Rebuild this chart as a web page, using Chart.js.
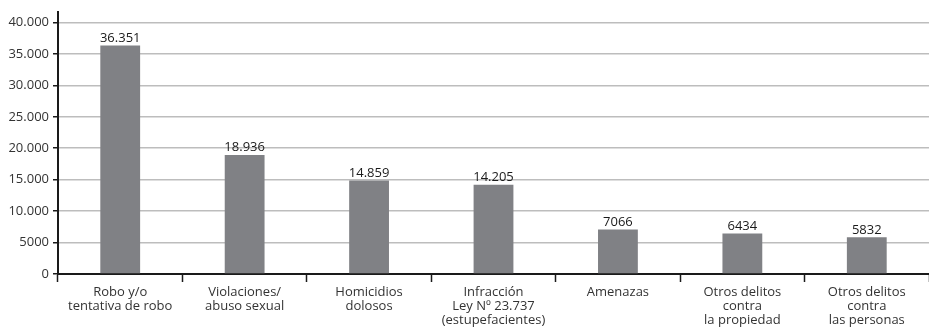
<!DOCTYPE html>
<html>
<head>
<meta charset="utf-8">
<script src="https://cdn.jsdelivr.net/npm/chart.js@4"></script>
<style>
  html, body { margin: 0; padding: 0; background: #fff; }
  #wrap { width: 929px; height: 330px; }
</style>
</head>
<body>
<div id="wrap"><canvas id="chartDelitos" width="929" height="330"></canvas></div>
<script>
// categorias e valores
const categorias = [
  ['Robo y/o', 'tentativa de robo'],
  ['Violaciones/', 'abuso sexual'],
  ['Homicidios', 'dolosos'],
  ['Infracción', 'Ley Nº 23.737', '(estupefacientes)'],
  ['Amenazas'],
  ['Otros delitos', 'contra', 'la propiedad'],
  ['Otros delitos', 'contra', 'las personas']
];
const valores = [36351, 18936, 14859, 14205, 7066, 6434, 5832];
const ticksY = [0, 5000, 10000, 15000, 20000, 25000, 30000, 35000, 40000];

// formato: ponto de milhar só a partir de 10.000
function formatar(v) {
  if (v < 10000) return String(v);
  return String(v).replace(/\B(?=(\d{3})+(?!\d))/g, '.');
}

const fonte = "'Open Sans', sans-serif";

// rótulos de valor acima das barras
const rotulosBarras = {
  id: 'rotulosBarras',
  afterDatasetsDraw(chart) {
    const ctx = chart.ctx;
    const meta = chart.getDatasetMeta(0);
    ctx.save();
    ctx.fillStyle = '#1a1a1a';
    ctx.font = '13px ' + fonte;
    ctx.textAlign = 'center';
    ctx.textBaseline = 'bottom';
    meta.data.forEach((bar, i) => {
      ctx.fillText(formatar(valores[i]), bar.x, bar.y - 1);
    });
    ctx.restore();
  }
};

const ctxDelitos = document.getElementById('chartDelitos').getContext('2d');
const chartDelitos = new Chart(ctxDelitos, {
  type: 'bar',
  data: {
    labels: categorias,
    datasets: [{
      data: valores,
      backgroundColor: '#808185',
      borderWidth: 0,
      categoryPercentage: 1,
      barPercentage: 0.32
    }]
  },
  options: {
    responsive: false,
    animation: false,
    layout: { padding: { top: 10, right: 0, left: 0, bottom: 0 } },
    plugins: {
      legend: { display: false },
      tooltip: { enabled: false }
    },
    scales: {
      x: {
        grid: {
          offset: true,
          drawOnChartArea: false,
          tickLength: 8,
          tickColor: '#1a1a1a',
          tickWidth: 1.5
        },
        border: { color: '#1a1a1a', width: 2 },
        ticks: {
          color: '#333',
          font: { family: fonte, size: 13, lineHeight: 1.08 },
          padding: 3,
          maxRotation: 0,
          autoSkip: false
        },
        afterFit(scale) { scale.height = 56; }
      },
      y: {
        min: 0,
        max: 41700,
        afterBuildTicks(scale) {
          scale.ticks = ticksY.map(v => ({ value: v }));
        },
        grid: {
          color: '#bdbdbd',
          lineWidth: 1.5,
          tickLength: 5,
          tickColor: '#1a1a1a'
        },
        border: { color: '#1a1a1a', width: 2 },
        ticks: {
          color: '#333',
          font: { family: fonte, size: 13 },
          padding: 4,
          autoSkip: false,
          callback: v => formatar(v)
        },
        afterFit(scale) { scale.width = 58; }
      }
    }
  },
  plugins: [rotulosBarras]
});
</script>
</body>
</html>
